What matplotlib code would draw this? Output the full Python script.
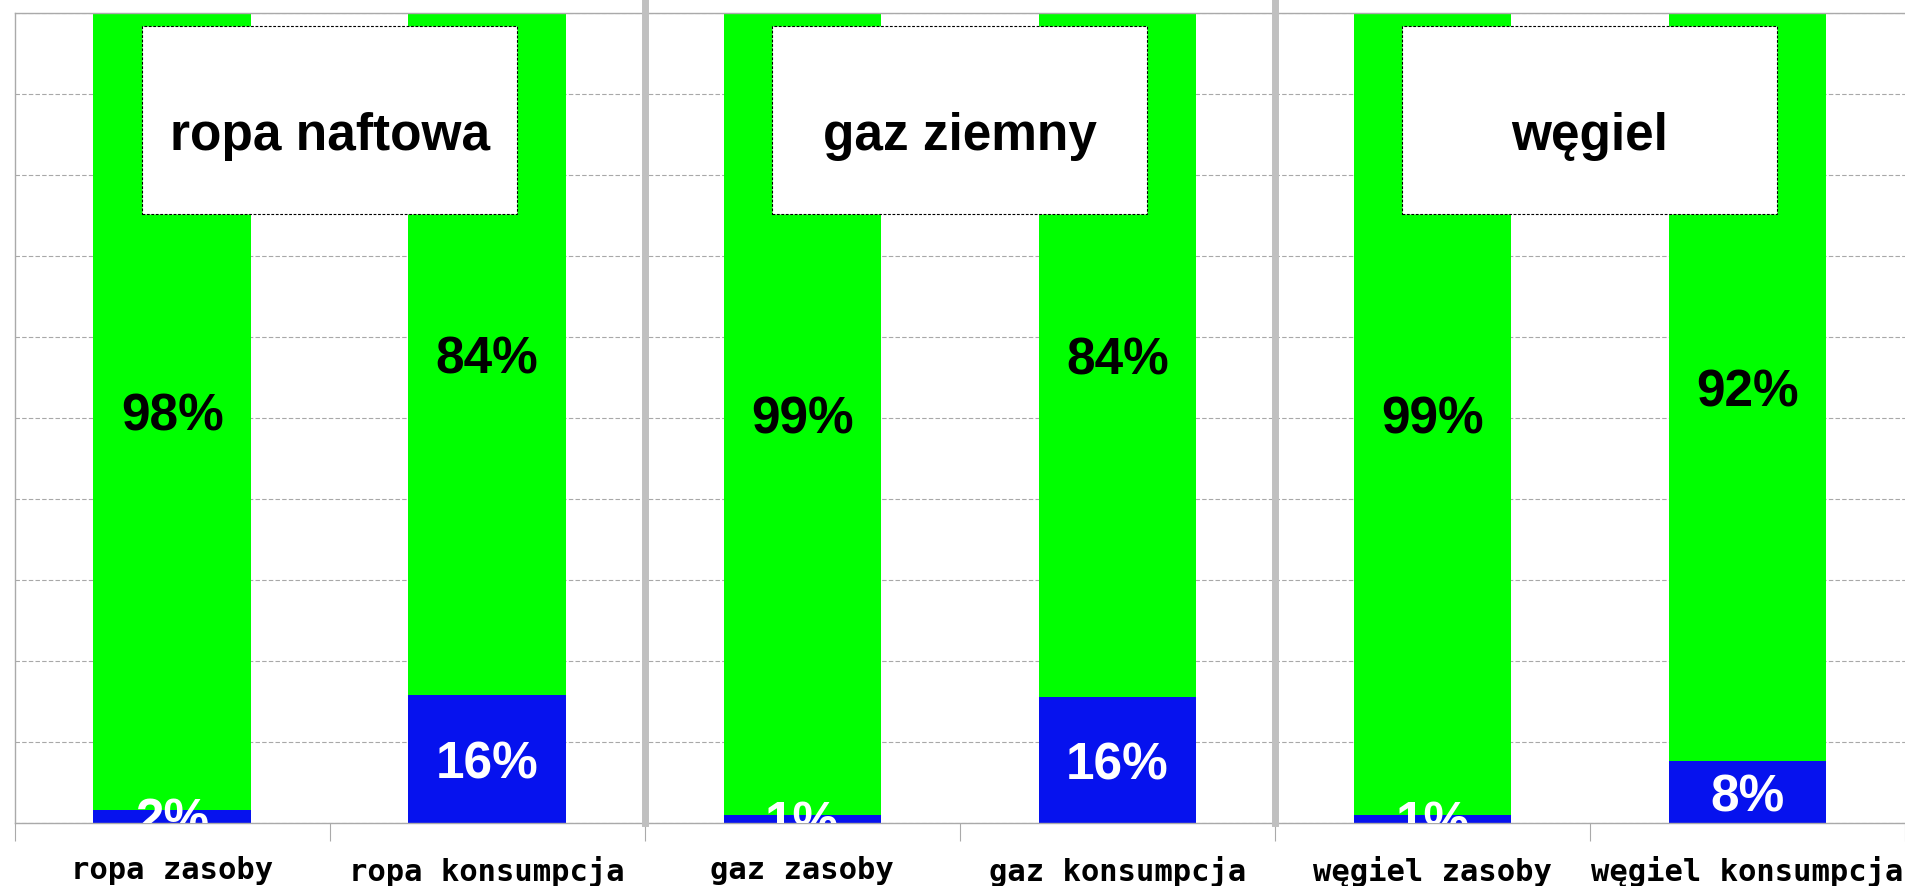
import matplotlib
matplotlib.use("Agg")
import matplotlib.pyplot as plt
from matplotlib.patches import Rectangle
import numpy as np

# ---- data ----
categories = ["ropa zasoby", "ropa konsumpcja", "gaz zasoby", "gaz konsumpcja",
              "węgiel zasoby", "węgiel konsumpcja"]
blue_share = [1.6, 15.8, 1.0, 15.6, 1.0, 7.6]
green_share = [98.4, 84.2, 99.0, 84.4, 99.0, 92.4]
group_titles = ["ropa naftowa", "gaz ziemny", "węgiel"]
y_ticks = [0, 10, 20, 30, 40, 50, 60, 70, 80, 90, 100]

GREEN = "#00FF00"
BLUE = "#0612EE"
GRID = "#A8A8A8"
SPINE = "#AAAAAA"
SEP = "#C0C0C0"

W, H = 1905, 887
fig = plt.figure(figsize=(W / 100, H / 100), dpi=100)
left_px, top_px, bottom_px = 14.6, 14, 824
ax = fig.add_axes([left_px / W, (H - bottom_px) / H, 1 - left_px / W,
                   (bottom_px - top_px) / H])

x = np.arange(len(categories))
ax.bar(x, blue_share, width=0.5, color=BLUE, zorder=2)
ax.bar(x, green_share, width=0.5, bottom=blue_share, color=GREEN, zorder=2)

ax.set_xlim(-0.5, len(categories) - 0.5)
ax.set_ylim(0, 100)

# gridlines
ax.set_yticks(y_ticks)
ax.yaxis.grid(True, color=GRID, linestyle=(0, (4, 2)), linewidth=0.8)
ax.set_axisbelow(True)
ax.tick_params(axis="y", left=False, labelleft=False)

# x axis: labels at centers, tick marks at boundaries
ax.set_xticks(x)
ax.set_xticklabels(categories, family="DejaVu Sans Mono", fontweight="bold",
                   fontsize=22, color="black")
ax.tick_params(axis="x", which="major", length=0, pad=23)
ax.set_xticks(np.arange(-0.5, len(categories)), minor=True)
ax.tick_params(axis="x", which="minor", length=13, width=0.8, color=SPINE)

for side in ["left", "top", "bottom"]:
    ax.spines[side].set_color(SPINE)
    ax.spines[side].set_linewidth(1.0)
ax.spines["right"].set_visible(False)

# thick separators between groups
for b in [1.5, 3.5]:
    ax.axvline(b, ymin=0, ymax=1 + top_px / (bottom_px - top_px), color=SEP,
               linewidth=5, clip_on=False, zorder=5)

# value labels
off = 0.6
for i in range(len(categories)):
    ax.text(x[i], blue_share[i] / 2 - off, f"{blue_share[i]:.0f}%", ha="center",
            va="center", color="white", fontsize=37, fontweight="bold",
            family="Liberation Sans", clip_on=True, zorder=3)
    ax.text(x[i], blue_share[i] + green_share[i] / 2 - off,
            f"{green_share[i]:.0f}%", ha="center", va="center", color="black",
            fontsize=37, fontweight="bold", family="Liberation Sans",
            clip_on=True, zorder=3)

# group title boxes
for g, title in enumerate(group_titles):
    cx = 2 * g + 0.5
    rect = Rectangle((cx - 0.595, 75.2), 1.19, 23.2, facecolor="white",
                     edgecolor="black", linewidth=0.8, linestyle=(0, (2.5, 1.5)),
                     zorder=6)
    ax.add_patch(rect)
    ax.text(cx, 84.9, title, ha="center", va="center", fontsize=37,
            fontweight="bold", family="Liberation Sans", color="black", zorder=7)

fig.savefig("out.png", dpi=100)
